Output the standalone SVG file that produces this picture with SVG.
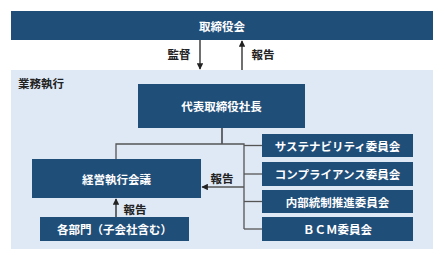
<svg xmlns="http://www.w3.org/2000/svg" width="446" height="261" viewBox="0 0 446 261">
<style>
.box{fill:#1f4e79}
.t{fill:#fff;font-family:"Noto Sans CJK JP","Noto Sans",sans-serif;font-weight:bold;font-size:11.5px;text-anchor:middle;dominant-baseline:central}
.lbl{fill:#222;font-family:"Noto Sans CJK JP","Noto Sans",sans-serif;font-weight:bold;font-size:11.5px;text-anchor:middle;dominant-baseline:central}
.ln{stroke:#555;stroke-width:1.3;fill:none}
.ar{stroke:#222;stroke-width:1.3;fill:none}
</style>
<defs>
<marker id="ah" viewBox="0 0 10 10" refX="9" refY="5" markerWidth="5" markerHeight="5" orient="auto"><path d="M0,0 L10,5 L0,10 z" fill="#222"/></marker>
</defs>
<rect width="446" height="261" fill="#fff"/>
<rect id="area" x="11" y="70" width="422" height="179" fill="#dfe9f5"/>
<text class="lbl" x="18" y="83" style="text-anchor:start">業務執行</text>
<g id="connectors">
<line class="ar" x1="200" y1="40" x2="200" y2="69" marker-end="url(#ah)"/>
<line class="ar" x1="242" y1="70" x2="242" y2="41" marker-end="url(#ah)"/>
<text class="lbl" x="179" y="54">監督</text>
<text class="lbl" x="263" y="54">報告</text>
<polyline class="ar" points="222,128 222,144"/>
<polyline class="ln" points="116,159 116,144 244,144 244,229"/>
<line class="ln" x1="244" y1="145.5" x2="262" y2="145.5"/>
<line class="ln" x1="244" y1="174" x2="262" y2="174"/>
<line class="ln" x1="244" y1="201.5" x2="262" y2="201.5"/>
<line class="ln" x1="244" y1="229" x2="262" y2="229"/>
<line class="ln" x1="244" y1="187" x2="202" y2="187" marker-end="url(#ah)"/>
<text class="lbl" x="222" y="178">報告</text>
<line class="ar" x1="116" y1="217" x2="116" y2="199" marker-end="url(#ah)"/>
<text class="lbl" x="135" y="209">報告</text>
</g>
<g id="board"><rect class="box" x="11" y="11" width="422" height="29"/><text class="t" x="222" y="25.5">取締役会</text></g>
<g id="president"><rect class="box" x="138" y="84" width="167" height="44"/><text class="t" x="221.5" y="106">代表取締役社長</text></g>
<g id="mgmt"><rect class="box" x="32" y="159" width="169" height="39"/><text class="t" x="116.5" y="178.5">経営執行会議</text></g>
<g id="depts"><rect class="box" x="40" y="217" width="149" height="24"/><text class="t" x="114.5" y="229">各部門（子会社含む）</text></g>
<g id="sustain"><rect class="box" x="262" y="134" width="151" height="23"/><text class="t" x="337.5" y="145.5">サステナビリティ委員会</text></g>
<g id="compliance"><rect class="box" x="262" y="162" width="151" height="24"/><text class="t" x="337.5" y="174">コンプライアンス委員会</text></g>
<g id="internal"><rect class="box" x="262" y="190" width="151" height="23"/><text class="t" x="337.5" y="201.5">内部統制推進委員会</text></g>
<g id="bcm"><rect class="box" x="262" y="217" width="151" height="24"/><text class="t" x="337.5" y="229">ＢＣＭ委員会</text></g>
</svg>
